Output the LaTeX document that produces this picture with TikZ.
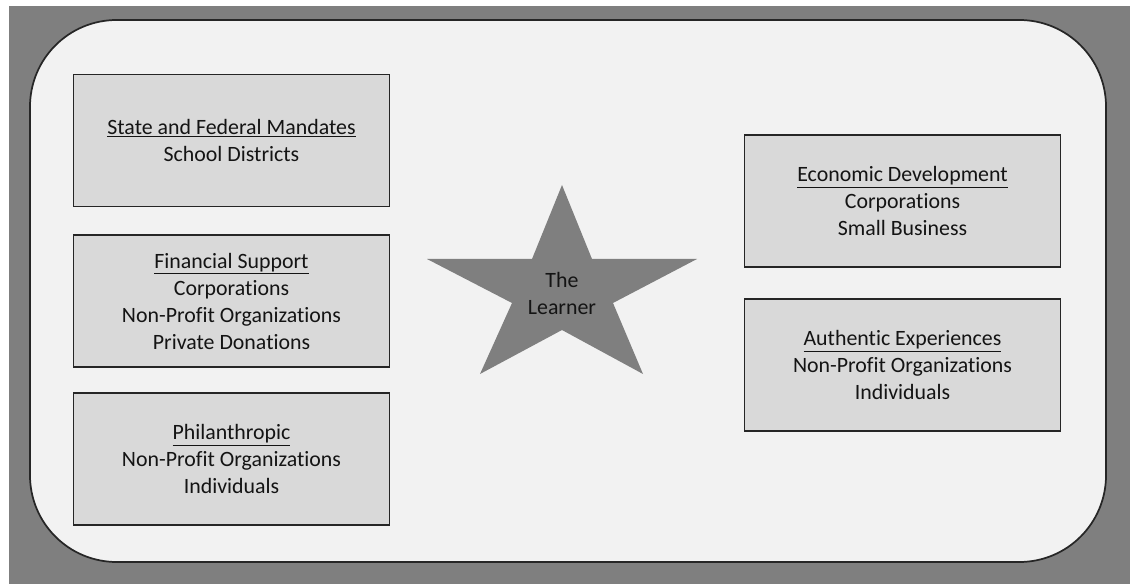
\documentclass[tikz,border=0pt]{standalone}
\usepackage{fontspec}
\setmainfont{Carlito}[Ligatures=NoCommon]
\definecolor{bggray}{HTML}{7F7F7F}
\definecolor{panel}{HTML}{F2F2F2}
\definecolor{boxfill}{HTML}{D9D9D9}
\definecolor{edge}{HTML}{262626}
\definecolor{txt}{HTML}{141414}
\tikzset{
  infobox/.style={draw=edge, fill=boxfill, line width=1.1pt, minimum width=237pt, minimum height=99pt,
    inner sep=0pt, align=center, text=txt, font=\fontsize{16.4pt}{20.25pt}\selectfont},
  startext/.style={align=center, text=txt, inner sep=0pt, font=\fontsize{16.4pt}{20.25pt}\selectfont}
}
\begin{document}
\begin{tikzpicture}[x=0.75pt,y=-0.75pt]
\useasboundingbox (0,0) rectangle (1130,584);
\fill[white] (0,0) rectangle (1130,584);
\fill[bggray] (9,6) rectangle (1130,584);
\draw[draw=edge, fill=panel, line width=1.3pt, rounded corners=65pt] (30,20) rectangle (1106,562);
% left column
\node[infobox] (sfm) at (231.5,140.5) {\underline{State and Federal Mandates}\\School Districts};
\node[infobox] (fin) at (231.5,301) {\underline{Financial Support}\\Corporations\\Non-Profit Organizations\\Private Donations};
\node[infobox] (phil) at (231.5,459) {\underline{Philanthropic}\\Non-Profit Organizations\\Individuals};
% right column
\node[infobox] (econ) at (902.5,201) {\underline{Economic Development}\\Corporations\\Small Business};
\node[infobox] (auth) at (902.5,365) {\underline{Authentic Experiences}\\Non-Profit Organizations\\Individuals};
% star
\fill[bggray] (562,185) -- (592,259) -- (697,259) -- (613,303) -- (643,374) -- (562,330)
  -- (480,374) -- (512,303) -- (427,259) -- (532,259) -- cycle;
\node[startext] (learner) at (562,293) {The\\Learner};
\end{tikzpicture}
\end{document}
